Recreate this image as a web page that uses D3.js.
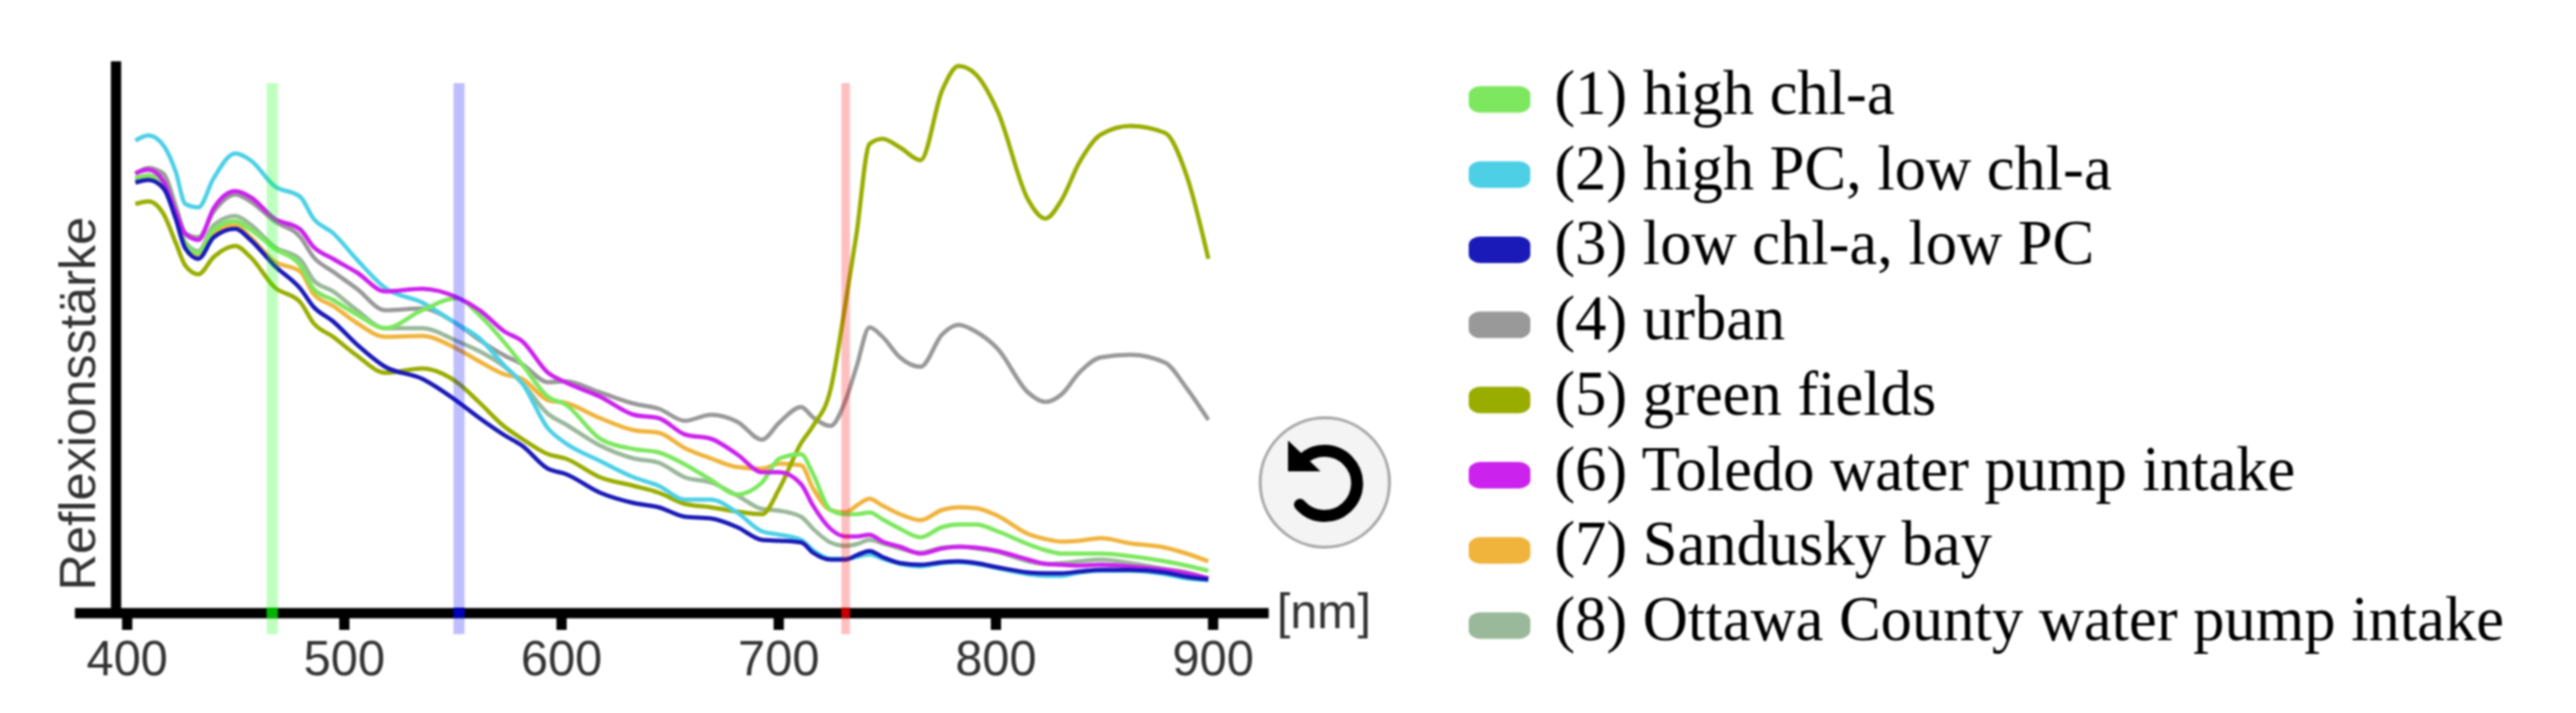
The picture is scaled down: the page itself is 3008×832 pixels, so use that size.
<!DOCTYPE html>
<html><head><meta charset="utf-8">
<script src="https://cdn.jsdelivr.net/npm/d3@7"></script>
<style>
html,body{margin:0;padding:0;background:#fff;}
svg{display:block;filter:blur(0.8px);}
</style></head>
<body><svg id="chart" width="3008" height="832"></svg>
<script>
const wavelengths=[404,410,417,422.5,427,433,440,450,457,468,480,486,495,506,519,536,552,562.5,574,582,594,602,618,633.5,645,657,669,681,692.5,700.5,710.5,716,724,731,736,742,748,756,765.5,775.5,783,791,801,815,823,830.5,838.5,848.5,862,878,888,898];
const highChl=[507,510,502,468,430,420,447,457,447,425,405,378,365,348,332,353,367,347,315,290,252,243,203,191,187,173,155,138,152,180,185,162,120,115,115,117,109,98,88,100,103,103,95,80,73,69,69,69,66,60,55,49];
const highPC=[551,557,545,515,477,473,507,536,528,498,485,460,443,412,379,362,337,320,288,268,215,198,177,158,148,132,132,117,95,91,85,73,63,63,65,68,63,57,54,58,59,57,52,45,43,43,47,49,49,45,40,38];
const lowChl=[502,505,495,460,425,413,438,448,435,405,378,357,340,313,287,273,247,227,207,195,168,162,140,128,123,112,110,100,85,84,82,70,62,62,67,72,65,58,56,59,60,58,53,47,46,46,48,50,50,47,42,39];
const urban=[512,519,512,475,443,438,468,488,480,457,438,415,398,378,353,355,337,318,300,290,269,270,257,244,238,224,231,223,202,222,240,228,218,248,287,333,322,298,287,325,336,328,308,257,246,255,280,298,301,292,262,225];
const greenFields=[477,480,465,432,405,395,415,428,415,380,362,338,322,300,280,285,269,245,217,203,185,180,158,148,140,127,123,118,115,145,198,218,260,362,442,547,553,543,528,610,638,628,585,482,460,482,525,558,568,560,510,413];
const toledo=[513,517,503,468,442,435,472,492,485,460,447,427,413,397,375,378,368,353,328,317,280,269,252,231,227,208,203,185,164,164,150,125,98,89,89,91,83,77,69,75,77,76,72,62,57,56,55,56,54,50,46,40];
const sandusky=[505,508,500,467,428,418,443,452,438,410,398,372,358,338,322,323,308,293,278,273,248,245,227,213,210,192,180,170,168,174,172,145,120,117,125,133,125,115,108,120,123,122,113,92,86,83,84,87,81,76,69,60];
const ottawa=[507,510,503,468,432,422,452,463,453,427,412,388,375,353,332,332,317,305,287,268,232,220,195,180,175,158,152,137,121,119,112,98,82,78,80,85,81,75,70,76,77,75,71,60,57,58,60,62,58,51,47,40];

const legendLabels=["(1) high chl-a","(2) high PC, low chl-a","(3) low chl-a, low PC","(4) urban","(5) green fields","(6) Toledo water pump intake","(7) Sandusky bay","(8) Ottawa County water pump intake"];
const legendColors=["#7de85f","#4dd0e6","#1a1ab8","#999999","#99ad00","#cc22ee","#f0b43c","#9ab89a"];
const seriesValues=[highChl,highPC,lowChl,urban,greenFields,toledo,sandusky,ottawa];
const drawOrder=[7,3,6,4,1,0,5,2];
const xTicks=[400,500,600,700,800,900];
const bandNm=[467,553,731];
const bandColors=["#00ff00","#0000ff","#ff0000"];
const bandPatch=["#00b400","#0000b4","#c80000"];
const bandWidths=[13,13,10];

const svg=d3.select("#chart");
const x=d3.scaleLinear().domain([375.95,925.6]).range([87,1481]);
const y=d3.scaleLinear().domain([0,644]).range([715,71]);

// axes
const gx=svg.append("g").attr("transform","translate(0,715)")
  .call(d3.axisBottom(x).tickValues(xTicks).tickSize(20).tickSizeOuter(0));
gx.select(".domain").attr("stroke","#000").attr("stroke-width",12);
gx.selectAll(".tick line").attr("stroke","#000").attr("stroke-width",12);
gx.selectAll(".tick text").attr("y",73).attr("dy",0)
  .attr("font-family","'Liberation Sans',Arial,sans-serif").attr("font-size",57).attr("fill","#333");
const gy=svg.append("g").attr("transform","translate(135,0)")
  .call(d3.axisLeft(y).tickValues([]).tickSizeOuter(0));
gy.select(".domain").attr("stroke","#000").attr("stroke-width",12);

svg.append("text").attr("transform","translate(111,689) rotate(-90)")
  .attr("font-family","'Liberation Sans',Arial,sans-serif").attr("font-size",59).attr("fill","#333")
  .text("Reflexionsstärke");
svg.append("text").attr("x",1491).attr("y",733)
  .attr("font-family","'Liberation Sans',Arial,sans-serif").attr("font-size",56.5).attr("fill","#333")
  .text("[nm]");

// spectra
const line=d3.line().x((d,i)=>x(wavelengths[i])).y(d=>y(d)).curve(d3.curveMonotoneX);
svg.append("g").selectAll("path").data(drawOrder).join("path")
  .attr("d",k=>line(seriesValues[k])).attr("fill","none")
  .attr("stroke",k=>legendColors[k]).attr("stroke-width",5).attr("stroke-linejoin","round");

// band markers
const bands=svg.append("g");
bandNm.forEach((nm,i)=>{
  bands.append("line").attr("x1",x(nm)).attr("x2",x(nm)).attr("y1",97).attr("y2",740)
    .attr("stroke",bandColors[i]).attr("stroke-opacity",0.25).attr("stroke-width",bandWidths[i]);
  bands.append("line").attr("x1",x(nm)).attr("x2",x(nm)).attr("y1",709).attr("y2",721)
    .attr("stroke",bandPatch[i]).attr("stroke-width",bandWidths[i]);
});

// legend
const leg=svg.append("g").selectAll("g").data(legendLabels).join("g")
  .attr("transform",(d,i)=>`translate(1715,${116+i*87.7})`);
leg.append("rect").attr("x",0).attr("y",-15.5).attr("width",72).attr("height",31).attr("rx",14).attr("ry",10)
  .attr("fill",(d,i)=>legendColors[i]);
leg.append("text").attr("x",100).attr("y",17)
  .attr("font-family","'Liberation Serif','Times New Roman',serif").attr("font-size",73).attr("fill","#000")
  .text(d=>d);

// reset button
const btn=svg.append("g").attr("transform","translate(1547,563)");
btn.append("circle").attr("r",75.5).attr("fill","#f4f4f4").attr("stroke","#a8a8a8").attr("stroke-width",3.5);
btn.append("path").attr("d","M-29,26A38,38 0 1 0 -27,-26")
  .attr("fill","none").attr("stroke","#000").attr("stroke-width",14).attr("stroke-linecap","round");
btn.append("path").attr("d","M-43,-49L-43,-13L-5,-13Z").attr("fill","#000");
</script></body></html>
